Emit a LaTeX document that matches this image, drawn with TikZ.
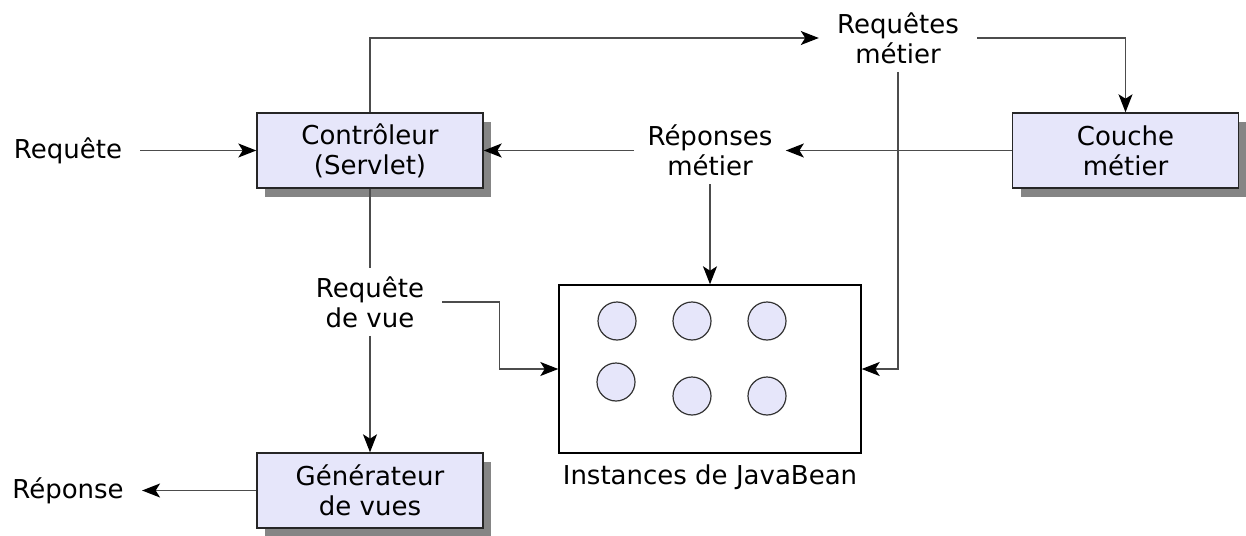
\documentclass[tikz,border=0pt]{standalone}
\usepackage{fontspec}
\setmainfont{DejaVu Sans}
\usepackage{tikz}
\usetikzlibrary{arrows.meta,shadows,positioning}
\definecolor{boxfill}{RGB}{230,230,250}

\begin{document}
\begin{tikzpicture}[x=0.5pt,y=-0.5pt,
  every node/.style={font=\fontsize{13}{15}\selectfont},
  layer/.style={draw=black!85,line width=0.7pt,fill=boxfill,align=center,
    minimum width=113pt,minimum height=37.5pt,
    drop shadow={shadow xshift=4pt,shadow yshift=-4.5pt,fill=black!48,opacity=1}},
  lbl/.style={align=center,inner xsep=9pt,inner ysep=4pt},
  bean/.style={circle,draw=black!80,line width=0.6pt,fill=boxfill,minimum size=19pt,inner sep=0pt},
  flow/.style={draw=black!70,line width=0.65pt,-{Stealth[length=9pt,width=7pt,inset=2.2pt,black]}},
  link/.style={draw=black!70,line width=0.65pt}]

\useasboundingbox (0,0) rectangle (1246,535);

\node[layer] (ctrl) at (370,150.5) {Contrôleur\\(Servlet)};
\node[layer] (couche) at (1125.5,150.5) {Couche\\métier};
\node[layer] (gen) at (370,490.5) {Générateur\\de vues};

\node[lbl] (requete) at (68,150.5) {Requête};
\node[lbl] (reponse) at (68,490.5) {Réponse};
\node[lbl] (reqmet) at (898,38) {Requêtes\\métier};
\node[lbl,inner xsep=6.5pt] (repmet) at (710,150.5) {Réponses\\métier};
\node[lbl] (reqvue) at (370,302) {Requête\\de vue};

\node[draw=black,line width=0.7pt,minimum width=151pt,minimum height=84pt] (beans) at (710,369) {};
\node[below=2pt of beans] (caption) {Instances de JavaBean};

\foreach \n/\x/\y in {1/617/321,2/692/321,3/767/321,4/616/382,5/692/396,6/767/396}
  \node[bean] (b\n) at (\x,\y) {};

\draw[flow] (requete) -- (ctrl);
\draw[flow] (gen) -- (reponse);
\draw[flow] (ctrl.north) |- (reqmet.west);
\draw[flow] (reqmet.east) -| (couche.north);
\draw[flow] (reqmet.south) |- (beans.east);
\draw[flow] (couche) -- (repmet);
\draw[flow] (repmet) -- (ctrl);
\draw[flow] (repmet) -- (beans);
\draw[link] (ctrl) -- (reqvue);
\draw[flow] (reqvue) -- (gen);
\draw[flow] (reqvue.east) -- ++(57,0) |- (beans.west);
\end{tikzpicture}
\end{document}
